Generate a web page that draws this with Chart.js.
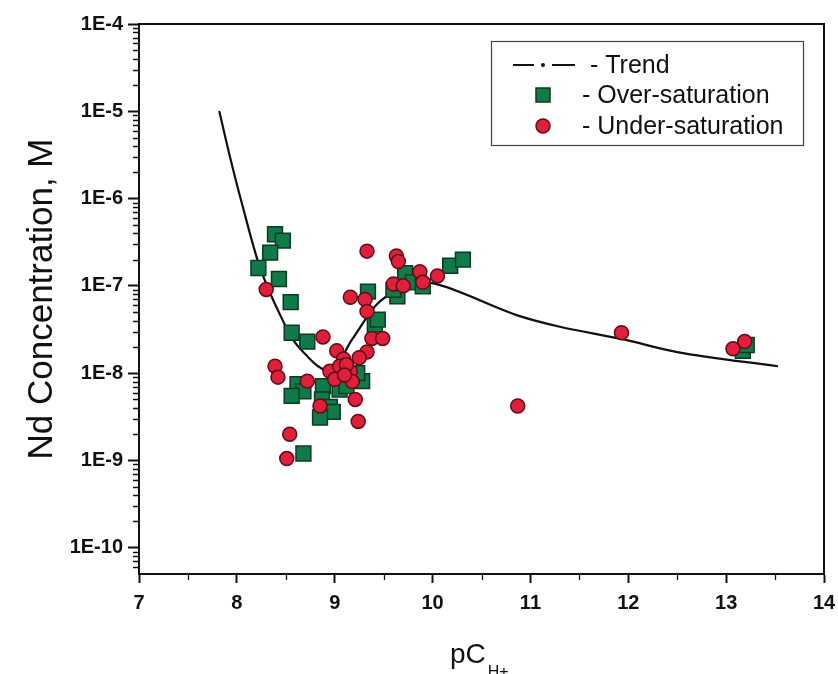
<!DOCTYPE html>
<html>
<head>
<meta charset="utf-8">
<script src="https://cdn.jsdelivr.net/npm/chart.js@4.4.1/dist/chart.umd.min.js"></script>
<style>
  body { margin: 0; background: #fff; }
  #wrap { width: 838px; height: 674px; }
</style>
</head>
<body>
<div id="wrap"><canvas id="chart" width="838" height="674"></canvas></div>
<script>
// Nd concentration vs pC(H+)

const overX = [8.39, 8.47, 8.34, 8.22, 8.43, 8.55, 8.56, 8.72, 8.62, 8.68, 8.56, 8.88, 8.87, 8.95, 8.98, 8.85, 8.68,
               9.05, 9.12, 9.28, 9.23, 9.41, 9.44, 9.34, 9.64, 9.60, 9.72, 9.80, 9.90, 10.18, 10.31, 13.17, 13.21];
const overY = [3.9e-7, 3.3e-7, 2.4e-7, 1.6e-7, 1.2e-7, 6.5e-8, 2.9e-8, 2.3e-8, 7.5e-9, 6.2e-9, 5.5e-9, 7.1e-9, 5.0e-9, 4.1e-9, 3.6e-9, 3.1e-9, 1.2e-9,
               6.5e-9, 7.1e-9, 8.1e-9, 1.0e-8, 3.6e-8, 4.1e-8, 8.6e-8, 7.6e-8, 9.0e-8, 1.4e-7, 1.1e-7, 9.9e-8, 1.7e-7, 2.0e-7, 1.8e-8, 2.1e-8];

const underX = [8.30, 8.39, 8.42, 8.72, 8.85, 8.54, 8.51, 8.88, 9.33, 9.24, 9.63, 9.65, 9.60, 9.70, 9.87, 9.90, 10.05,
                9.16, 9.31, 9.33, 9.38, 9.49, 9.33, 9.02, 9.09, 9.16, 8.95, 9.21, 9.05, 9.12, 9.00, 9.18, 9.10, 9.25,
                11.93, 13.07, 13.19, 10.87];
const underY = [9.1e-8, 1.2e-8, 9.0e-9, 8.1e-9, 4.2e-9, 2.0e-9, 1.05e-9, 2.6e-8, 2.5e-7, 2.8e-9, 2.2e-7, 1.9e-7, 1.05e-7, 1.0e-7, 1.45e-7, 1.1e-7, 1.3e-7,
                7.4e-8, 7.0e-8, 5.1e-8, 2.5e-8, 2.5e-8, 1.75e-8, 1.8e-8, 1.45e-8, 1.05e-8, 1.05e-8, 5.0e-9, 1.2e-8, 1.25e-8, 8.5e-9, 8.0e-9, 9.5e-9, 1.5e-8,
                2.9e-8, 1.9e-8, 2.3e-8, 4.2e-9];

const trendX = [7.82, 7.93, 8.06, 8.21, 8.31, 8.44, 8.57, 8.72, 8.83, 8.95, 9.18, 9.41, 9.53, 9.87, 10.05, 10.89, 11.30, 11.94, 12.50, 13.53];
const trendY = [1.01e-5, 3.0e-6, 8.1e-7, 2.0e-7, 9.9e-8, 4.7e-8, 2.45e-8, 1.56e-8, 1.2e-8, 1.05e-8, 2.45e-8, 5.8e-8, 7.6e-8, 1.12e-7, 1.04e-7, 4.5e-8, 3.4e-8, 2.45e-8, 1.74e-8, 1.2e-8];

const yTicks = [1e-10, 1e-9, 1e-8, 1e-7, 1e-6, 1e-5, 1e-4];
const legendLabels = ['- Trend', '- Over-saturation', '- Under-saturation'];

const greenFill = 'rgb(18,122,72)';
const greenEdge = 'rgb(8,60,34)';
const redFill = 'rgb(222,32,58)';
const redEdge = 'rgb(96,12,24)';
const ink = '#111';
const fontFamily = "'Liberation Sans', Arial, sans-serif";

const toPoints = (xs, ys) => xs.map((v, i) => ({ x: v, y: ys[i] }));

// top/right frame, minor ticks, x title with subscript and the boxed legend
const extras = {
    id: 'extras',
    afterDraw(chart) {
        const { ctx, chartArea: a, scales: { x, y } } = chart;
        ctx.save();
        ctx.strokeStyle = ink;
        ctx.lineWidth = 2;
        ctx.beginPath();
        ctx.moveTo(a.left, a.top);
        ctx.lineTo(a.right, a.top);
        ctx.lineTo(a.right, a.bottom);
        ctx.stroke();

        ctx.lineWidth = 1.3;
        ctx.beginPath();
        for (let p = -11; p < -4; p++) {
            for (let m = 2; m <= 9; m++) {
                const v = m * Math.pow(10, p);
                if (v < y.min || v > y.max) continue;
                const py = Math.round(y.getPixelForValue(v)) + 0.5;
                ctx.moveTo(a.left - 6, py);
                ctx.lineTo(a.left, py);
            }
        }
        for (let v = 7.5; v < 14; v++) {
            const px = Math.round(x.getPixelForValue(v)) + 0.5;
            ctx.moveTo(px, a.bottom);
            ctx.lineTo(px, a.bottom + 6);
        }
        ctx.stroke();

        // x axis title: pC with H+ subscript
        ctx.fillStyle = ink;
        ctx.textBaseline = 'alphabetic';
        ctx.textAlign = 'left';
        ctx.font = '28px ' + fontFamily;
        const mainW = ctx.measureText('pC').width;
        const startX = 450;
        ctx.fillText('pC', startX, 663);
        ctx.font = '16px ' + fontFamily;
        ctx.fillText('H+', startX + mainW + 2, 677);

        // legend box
        const bx = a.right - 333, by = a.top + 17, bw = 312, bh = 104;
        ctx.fillStyle = '#fff';
        ctx.fillRect(bx, by, bw, bh);
        ctx.strokeStyle = '#444';
        ctx.lineWidth = 1.2;
        ctx.strokeRect(bx + 0.5, by + 0.5, bw, bh);

        const rows = [by + 24, by + 54, by + 85];
        const symX = bx + 52;
        ctx.strokeStyle = ink;
        ctx.lineWidth = 2.2;
        ctx.beginPath();
        ctx.moveTo(bx + 22, rows[0]);
        ctx.lineTo(bx + 43, rows[0]);
        ctx.moveTo(bx + 61, rows[0]);
        ctx.lineTo(bx + 84, rows[0]);
        ctx.stroke();
        ctx.fillStyle = ink;
        ctx.beginPath();
        ctx.arc(symX, rows[0], 2, 0, Math.PI * 2);
        ctx.fill();

        ctx.fillStyle = greenFill;
        ctx.strokeStyle = greenEdge;
        ctx.lineWidth = 1.5;
        ctx.fillRect(symX - 7, rows[1] - 7, 14, 14);
        ctx.strokeRect(symX - 7, rows[1] - 7, 14, 14);

        ctx.fillStyle = redFill;
        ctx.strokeStyle = redEdge;
        ctx.beginPath();
        ctx.arc(symX, rows[2], 7, 0, Math.PI * 2);
        ctx.fill();
        ctx.stroke();

        ctx.fillStyle = ink;
        ctx.font = '25px ' + fontFamily;
        ctx.textBaseline = 'middle';
        ctx.fillText(legendLabels[0], bx + 99, rows[0] + 1);
        ctx.fillText(legendLabels[1], bx + 91, rows[1] + 1);
        ctx.fillText(legendLabels[2], bx + 91, rows[2] + 1);
        ctx.restore();
    }
};

const tickFont = { family: fontFamily, size: 20, weight: 'bold' };

new Chart(document.getElementById('chart'), {
    type: 'scatter',
    data: {
        datasets: [
            {
                label: 'Under-saturation',
                data: toPoints(underX, underY),
                pointStyle: 'circle',
                pointRadius: 7,
                backgroundColor: redFill,
                borderColor: redEdge,
                borderWidth: 1.5,
                order: 1
            },
            {
                label: 'Over-saturation',
                data: toPoints(overX, overY),
                pointStyle: 'rect',
                pointRadius: 10.5,
                backgroundColor: greenFill,
                borderColor: greenEdge,
                borderWidth: 1.5,
                order: 2
            },
            {
                label: 'Trend',
                type: 'line',
                data: toPoints(trendX, trendY),
                showLine: true,
                pointRadius: 0,
                borderColor: ink,
                borderWidth: 2.2,
                fill: false,
                cubicInterpolationMode: 'monotone',
                order: 3
            }
        ]
    },
    options: {
        responsive: false,
        animation: false,
        devicePixelRatio: 1,
        layout: { padding: { top: 24, right: 14, left: 0, bottom: 0 } },
        plugins: {
            legend: { display: false },
            tooltip: { enabled: false }
        },
        scales: {
            x: {
                type: 'linear',
                min: 7,
                max: 14,
                ticks: { stepSize: 1, color: ink, font: tickFont, padding: 8, maxRotation: 0 },
                grid: { drawOnChartArea: false, tickLength: 9, tickColor: ink, tickWidth: 2 },
                border: { display: true, color: ink, width: 2 },
                afterFit(scale) {
                    scale.height = 100;
                    scale.paddingLeft = 0;
                    scale.paddingRight = 0;
                }
            },
            y: {
                type: 'logarithmic',
                min: 5e-11,
                max: 1e-4,
                afterBuildTicks(scale) { scale.ticks = yTicks.map(v => ({ value: v, major: true })); },
                ticks: {
                    color: ink,
                    font: tickFont,
                    padding: 5,
                    callback: v => '1E' + Math.round(Math.log10(v))
                },
                grid: { drawOnChartArea: false, tickLength: 11, tickColor: ink, tickWidth: 2 },
                border: { display: true, color: ink, width: 2 },
                title: {
                    display: true,
                    text: 'Nd Concentration, M',
                    color: ink,
                    font: { family: fontFamily, size: 35 },
                    padding: { top: 21, bottom: 0 }
                },
                afterFit(scale) {
                    scale.width = 139;
                    scale.paddingTop = 0;
                    scale.paddingBottom = 0;
                }
            }
        }
    },
    plugins: [extras]
});
</script>
</body>
</html>
